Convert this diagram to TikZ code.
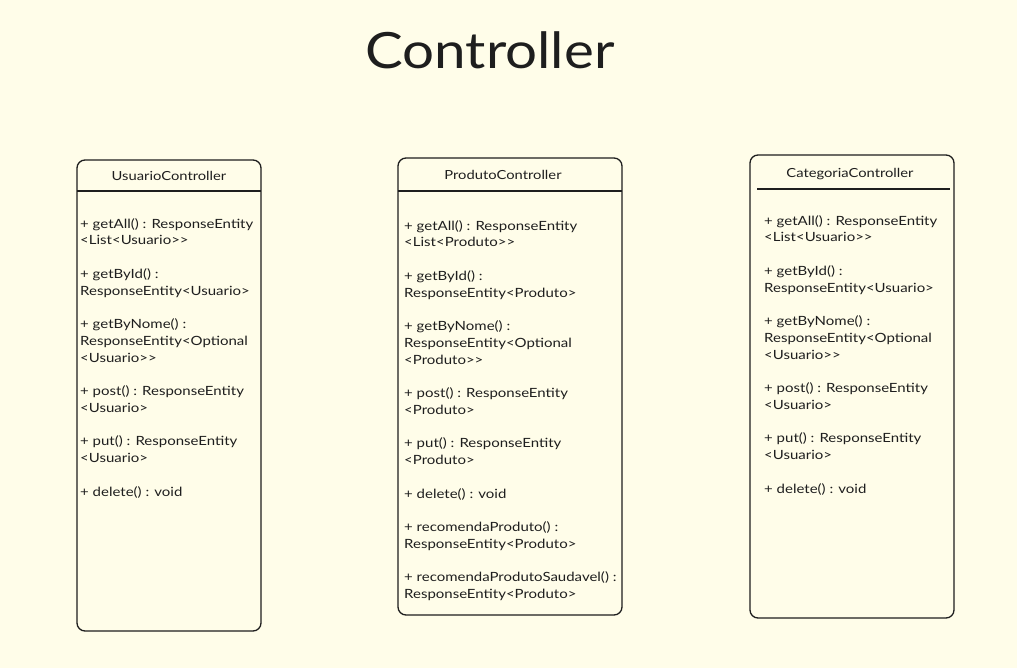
\documentclass[tikz,border=0pt]{standalone}
\usepackage{fontspec}
\setmainfont{Lato}[Ligatures=TeXOff]
\newfontfamily\bodyfont{Lato}[Ligatures=TeXOff, FakeStretch=1.18]
\newfontfamily\titlefont{Lato}[Ligatures=TeXOff, FakeStretch=1.13]
\definecolor{bg}{HTML}{FFFDE9}
\definecolor{ink}{HTML}{1E1E1E}
\begin{document}
\begin{tikzpicture}[x=1pt,y=-1pt,
  classbox/.style={draw=ink, line width=1.3pt, rounded corners=8pt, fill=bg, inner sep=0pt},
  headline/.style={draw=ink, line width=1.1pt},
  ctitle/.style={text=ink, font=\bodyfont\fontsize{12.5}{15}\selectfont, inner sep=0pt},
  members/.style={text=ink, font=\bodyfont\fontsize{12.7}{16.75}\selectfont, align=left, inner sep=0pt, anchor=north west}
]
\fill[bg] (0,0) rectangle (1017,668);
\useasboundingbox (0,0) rectangle (1017,668);

\node[text=ink, font=\titlefont\fontsize{50}{56}\selectfont, inner sep=0pt] (title) at (490,50) {Controller};

% Usuario
\node[classbox, minimum width=184pt, minimum height=471pt] (ubox) at (169,395.5) {};
\draw[headline] (77,191) -- (261,191);
\node[ctitle] (utitle) at (169,176) {UsuarioController};
\node[members] (ubody) at (80,218) {%
+ getAll() : ResponseEntity\\
<List<Usuario>>\\[16.75pt]
+ getById() :\\
ResponseEntity<Usuario>\\[16.75pt]
+ getByNome() :\\
ResponseEntity<Optional\\
<Usuario>>\\[16.75pt]
+ post() : ResponseEntity\\
<Usuario>\\[16.75pt]
+ put() : ResponseEntity\\
<Usuario>\\[16.75pt]
+ delete() : void};

% Produto
\node[classbox, minimum width=224pt, minimum height=457pt] (pbox) at (510,386.5) {};
\draw[headline] (398,191) -- (622,191);
\node[ctitle] (ptitle) at (503,175) {ProdutoController};
\node[members] (pbody) at (404,220) {%
+ getAll() : ResponseEntity\\
<List<Produto>>\\[16.75pt]
+ getById() :\\
ResponseEntity<Produto>\\[16.75pt]
+ getByNome() :\\
ResponseEntity<Optional\\
<Produto>>\\[16.75pt]
+ post() : ResponseEntity\\
<Produto>\\[16.75pt]
+ put() : ResponseEntity\\
<Produto>\\[16.75pt]
+ delete() : void\\[16.75pt]
+ recomendaProduto() :\\
ResponseEntity<Produto>\\[16.75pt]
+ recomendaProdutoSaudavel() :\\
ResponseEntity<Produto>};

% Categoria
\node[classbox, minimum width=204pt, minimum height=463pt] (cbox) at (852,386.5) {};
\draw[headline] (757,189) -- (950,189);
\node[ctitle] (ctitle) at (850,174) {CategoriaController};
\node[members] (cbody) at (764,215) {%
+ getAll() : ResponseEntity\\
<List<Usuario>>\\[16.75pt]
+ getById() :\\
ResponseEntity<Usuario>\\[16.75pt]
+ getByNome() :\\
ResponseEntity<Optional\\
<Usuario>>\\[16.75pt]
+ post() : ResponseEntity\\
<Usuario>\\[16.75pt]
+ put() : ResponseEntity\\
<Usuario>\\[16.75pt]
+ delete() : void};
\end{tikzpicture}
\end{document}
